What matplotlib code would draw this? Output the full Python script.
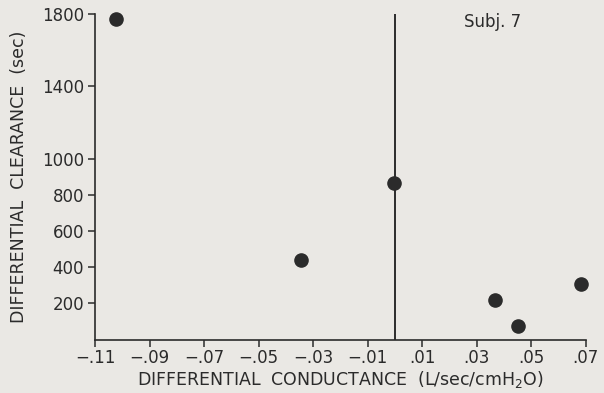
import numpy as np
import matplotlib.pyplot as plt

# values
conductance = [-0.1023, -0.0344, -0.0005, 0.0368, 0.0451, 0.0683]
clearance = [1771, 439, 865, 218, 72, 307]
x_ticks = [-0.11, -0.09, -0.07, -0.05, -0.03, -0.01, 0.01, 0.03, 0.05, 0.07]
x_tick_labels = ['\u2212.11', '\u2212.09', '\u2212.07', '\u2212.05', '\u2212.03',
                 '\u2212.01', '.01', '.03', '.05', '.07']
y_ticks = [200, 400, 600, 800, 1000, 1400, 1800]

ink = '#2b2b2b'
paper = '#eae8e4'
plt.rcParams['font.family'] = 'DejaVu Sans'

fig = plt.figure(figsize=(6.04, 3.93), dpi=100, facecolor=paper)
ax = fig.add_axes([0.1573, 0.1361, 0.9697 - 0.1573, 0.9644 - 0.1361])
ax.set_facecolor(paper)

ax.scatter(conductance, clearance, s=90, color=ink, zorder=3, clip_on=False)
ax.axvline(0, color=ink, lw=1.4, zorder=2)

ax.set_xlim(-0.11, 0.07)
ax.set_ylim(0, 1800)
ax.set_xticks(x_ticks)
ax.set_xticklabels(x_tick_labels)
ax.set_yticks(y_ticks)

for side in ['top', 'right']:
    ax.spines[side].set_visible(False)
for side in ['left', 'bottom']:
    ax.spines[side].set_color(ink)
    ax.spines[side].set_linewidth(1.2)

ax.tick_params(axis='both', direction='out', length=5, width=1.1, color=ink,
               labelcolor=ink, labelsize=12)
ax.tick_params(axis='x', pad=2)
ax.tick_params(axis='y', pad=3)

ax.set_xlabel('DIFFERENTIAL  CONDUCTANCE  (L/sec/cmH$_2$O)', fontsize=12.5,
              color=ink, labelpad=1)
ax.set_ylabel('DIFFERENTIAL  CLEARANCE  (sec)', fontsize=12.5, color=ink,
              labelpad=10)

ax.text(0.81, 0.975, 'Subj. 7', transform=ax.transAxes, ha='center', va='center',
        fontsize=12, color=ink)

fig.savefig('out.png', dpi=100, facecolor=paper)
